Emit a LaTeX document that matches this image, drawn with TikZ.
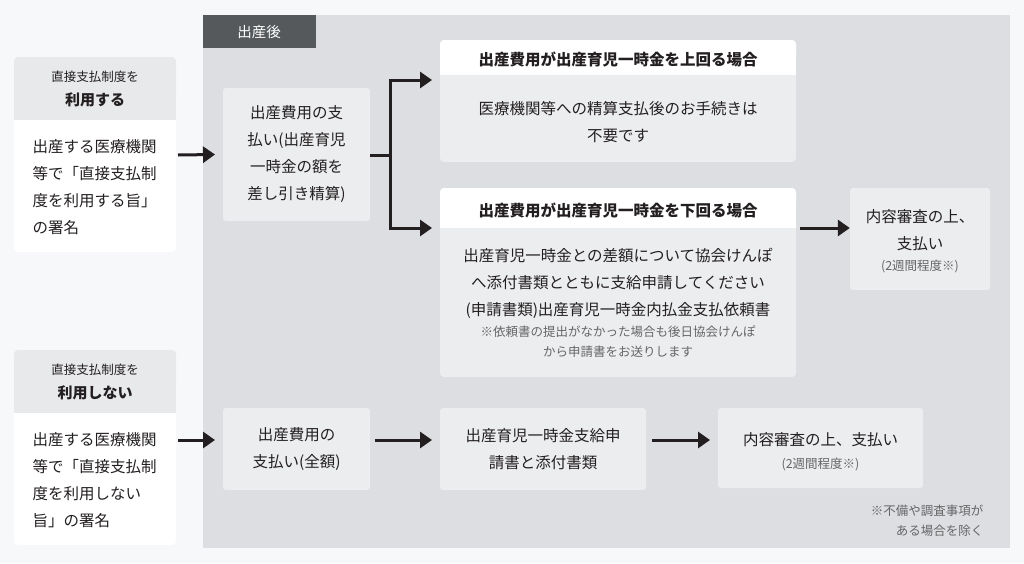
\documentclass[tikz,border=0pt]{standalone}
\usepackage{fontspec}
\setmainfont{Noto Sans CJK JP}
\begin{document}
\begin{tikzpicture}[x=1pt,y=-1pt,
  box/.style={fill=boxg,rounded corners=3pt,draw=none},
  t/.style={font=\fontsize{15.5}{27}\selectfont,text=txt,align=center},
  tb/.style={font=\bfseries\fontsize{15.5}{27}\selectfont,text=txt,align=center},
  sm/.style={font=\fontsize{12.5}{20}\selectfont,text=gray!80!black,align=center},
  arr/.style={line width=3pt,draw=txt,-{Triangle[length=12pt,width=16pt]}}]
\definecolor{bg}{HTML}{F7F8FA}
\definecolor{panel}{HTML}{DCDEE2}
\definecolor{boxg}{HTML}{ECEDEF}
\definecolor{lhg}{HTML}{E8E9EB}
\definecolor{tab}{HTML}{55595C}
\definecolor{txt}{HTML}{231F20}
\usetikzlibrary{arrows.meta}
\fill[bg] (0,0) rectangle (1024,563);
\useasboundingbox (0,0) rectangle (1024,563);
\fill[panel] (203,15) rectangle (1010,548);
\fill[tab] (203,15) rectangle (316,48);
\node[text=white,font=\fontsize{14.5}{16}\selectfont] (tab) at (259,32) {出産後};
% left top
\fill[white,rounded corners=4pt] (14,57) rectangle (176,252);
\fill[lhg,rounded corners=4pt] (14,57) rectangle (176,100);
\fill[lhg] (14,90) rectangle (176,120);
\node[align=center,text=txt] (lh1) at (95,89) {\fontsize{12.5}{14}\selectfont 直接支払制度を\\[9pt]\bfseries\fontsize{15}{16}\selectfont 利用する};
\node[t,align=left,anchor=west] (lb1) at (29,187) {出産する医療機関\\等で「直接支払制\\度を利用する旨」\\の署名};
\coordinate (a1s) at (178,155);
% left bottom
\fill[white,rounded corners=4pt] (14,350) rectangle (176,545);
\fill[lhg,rounded corners=4pt] (14,350) rectangle (176,393);
\fill[lhg] (14,383) rectangle (176,413);
\node[align=center,text=txt] (lh2) at (95,382) {\fontsize{12.5}{14}\selectfont 直接支払制度を\\[9pt]\bfseries\fontsize{15}{16}\selectfont 利用しない};
\node[t,align=left,anchor=west] (lb2) at (29,480) {出産する医療機関\\等で「直接支払制\\度を利用しない\\旨」の署名};
\coordinate (a2s) at (178,440);
% middle
\node[box,minimum width=147pt,minimum height=133pt,t] (m1) at (296.5,154.5) {出産費用の支\\払い(出産育児\\一時金の額を\\差し引き精算)};
\node[box,minimum width=147pt,minimum height=82pt,t] (m2) at (296.5,449) {出産費用の\\支払い(全額)};
\draw[arr] (a1s) -- (m1.west -| 215,0);
\draw[arr] (a2s) -- (215,440);
% top right box
\fill[boxg,rounded corners=4pt] (440,40) rectangle (796,162);
\fill[white,rounded corners=4pt] (440,40) rectangle (796,60);
\fill[white] (440,55) rectangle (796,75);
\node[tb] (h1) at (618,59) {出産費用が出産育児一時金を上回る場合};
\node[t] (b1) at (618,122) {医療機関等への精算支払後のお手続きは\\不要です};
% bottom right box
\fill[boxg,rounded corners=4pt] (440,188) rectangle (796,377);
\fill[white,rounded corners=4pt] (440,188) rectangle (796,208);
\fill[white] (440,203) rectangle (796,228);
\node[tb] (h2) at (618,210) {出産費用が出産育児一時金を下回る場合};
\node[t] (b2) at (618,283) {出産育児一時金との差額について協会けんぽ\\へ添付書類とともに支給申請してください\\(申請書類)出産育児一時金内払金支払依頼書};
\node[sm] (b2n) at (618,342) {※依頼書の提出がなかった場合も後日協会けんぽ\\から申請書をお送りします};
% branch
\coordinate (br) at (390,155);
\draw[line width=3pt,draw=txt] (m1.east |- br) -- (br);
\draw[arr] (br) |- (432,80);
\draw[arr] (br) |- (432,228);
% right
\node[box,minimum width=140pt,minimum height=102pt] (r1) at (920,239) {};
\node[t] (r1t) at (920,230) {内容審査の上、\\支払い};
\node[sm] (r1s) at (920,266) {(2週間程度※)};
\draw[arr] (800,228) -- (r1.west |- 0,228);
\node[box,minimum width=206pt,minimum height=82pt] (m3) at (543,449) {};
\node[t] (m3t) at (543,449) {出産育児一時金支給申\\請書と添付書類};
\node[box,minimum width=205pt,minimum height=80pt] (r2) at (820.5,448) {};
\node[t] (r2t) at (820.5,440) {内容審査の上、支払い};
\node[sm] (r2s) at (820.5,464) {(2週間程度※)};
\draw[arr] (m2.east |- 0,440) ++(5,0) -- (432,440);
\draw[arr] (m3.east |- 0,440) ++(6,0) -- (710,440);
\node[sm,align=right,anchor=east] (note) at (987,521) {※不備や調査事項が\\ある場合を除く};
\end{tikzpicture}
\end{document}
